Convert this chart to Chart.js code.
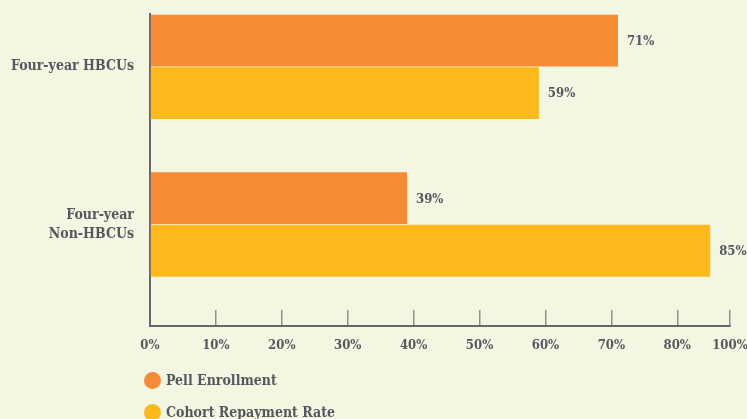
<!DOCTYPE html>
<html>
<head>
<meta charset="utf-8">
<title>Pell Enrollment vs Cohort Repayment Rate</title>
<script src="https://cdn.jsdelivr.net/npm/chart.js@4.4.1/dist/chart.umd.min.js"></script>
<style>
  html, body { margin: 0; padding: 0; background: #F3F6E1; }
  #wrap { position: relative; width: 747px; height: 419px; overflow: hidden; }
  #chart { position: absolute; left: 0; top: 0; }
  #legend { position: absolute; left: 144px; top: 370px; font-family: 'DejaVu Serif Condensed', 'DejaVu Serif', serif;
            font-weight: bold; font-size: 14px; color: #54585F; }
  .lg-item { height: 32px; display: flex; align-items: flex-start; }
  .lg-dot { width: 17px; height: 17px; border-radius: 50%; margin-right: 5px; margin-top: 2px; }
  .lg-text { line-height: 20px; }
</style>
</head>
<body>
<div id="wrap">
  <canvas id="chart" width="747" height="419"></canvas>
  <div id="legend"></div>
</div>
<script>
// ══════════════════════════════════════════════
//  HBCU Pell enrollment / repayment bar chart
// ══════════════════════════════════════════════

// ── Data ───────────────────────────────────
var categories   = ['Four-year HBCUs', 'Four-year Non-HBCUs'];
var catLines     = [['Four-year HBCUs'], ['Four-year', 'Non-HBCUs']];
var pellValues   = [71, 39];
var repayValues  = [59, 85];
var seriesNames  = ['Pell Enrollment', 'Cohort Repayment Rate'];
var tickValues   = [0, 10, 20, 30, 40, 50, 60, 70, 80, 88];
var tickLabels   = ['0%', '10%', '20%', '30%', '40%', '50%', '60%', '70%', '80%', '100%'];

// ── Style ──────────────────────────────────
var ORANGE = '#F58B34';
var YELLOW = '#FDB81B';
var TEXT   = '#54585F';
var AXIS   = '#64676C';
var TICK   = '#8E9194';
var FONT   = "'DejaVu Serif Condensed', 'DejaVu Serif', serif";

function toPoints(vals) {
  return vals.map(function(v, i) { return { x: v, y: i }; });
}

// keep the plot area fixed: no extra room for edge tick labels
function noEdgePadding(s) {
  s.paddingTop = 0; s.paddingBottom = 0;
  s.paddingLeft = 0; s.paddingRight = 0;
}

// value labels at the end of each bar
var barLabels = {
  id: 'barLabels',
  afterDatasetsDraw: function(chart) {
    var ctx = chart.ctx;
    ctx.save();
    ctx.font = 'bold 13px ' + FONT;
    ctx.fillStyle = TEXT;
    ctx.textAlign = 'left';
    ctx.textBaseline = 'middle';
    chart.data.datasets.forEach(function(ds, di) {
      chart.getDatasetMeta(di).data.forEach(function(bar, i) {
        ctx.fillText(ds.data[i].x + '%', bar.x + 9, bar.y + 1);
      });
    });
    ctx.restore();
  }
};

// ── Chart ──────────────────────────────────
var chart = new Chart(document.getElementById('chart'), {
  type: 'bar',
  data: {
    datasets: [
      { label: seriesNames[0], data: toPoints(pellValues),  backgroundColor: ORANGE },
      { label: seriesNames[1], data: toPoints(repayValues), backgroundColor: YELLOW }
    ]
  },
  options: {
    indexAxis: 'y',
    responsive: false,
    animation: false,
    categoryPercentage: 0.667,
    barPercentage: 0.985,
    layout: { padding: { top: 14, right: 17, bottom: 53, left: 0 } },
    plugins: {
      legend: { display: false },
      tooltip: { enabled: false }
    },
    scales: {
      x: {
        type: 'linear',
        min: 0,
        max: 88,
        bounds: 'data',
        afterBuildTicks: function(s) {
          s.ticks = tickValues.map(function(v) { return { value: v }; });
        },
        afterFit: function(s) { s.height = 40; noEdgePadding(s); },
        grid: { drawOnChartArea: false, drawTicks: true, tickLength: -16, tickColor: TICK, lineWidth: 1.5 },
        border: { display: true, color: AXIS, width: 2 },
        ticks: {
          padding: 28,
          color: TEXT,
          font: { family: FONT, size: 13, weight: 'bold' },
          maxRotation: 0,
          autoSkip: false,
          callback: function(v, i) { return tickLabels[i]; }
        }
      },
      y: {
        type: 'linear',
        reverse: true,
        offset: false,
        min: -0.335,
        max: 1.644,
        bounds: 'data',
        afterBuildTicks: function(s) {
          s.ticks = categories.map(function(c, i) { return { value: i }; });
        },
        afterFit: function(s) { s.width = 150; noEdgePadding(s); },
        grid: { display: false, offset: false },
        border: { display: true, color: AXIS, width: 2 },
        ticks: {
          padding: 8,
          color: TEXT,
          font: { family: FONT, size: 14, weight: 'bold', lineHeight: 1.35 },
          autoSkip: false,
          callback: function(v) { return catLines[v] || ''; }
        }
      }
    }
  },
  plugins: [barLabels]
});

// ── Legend ─────────────────────────────────
var html = '';
chart.data.datasets.forEach(function(ds) {
  html += '<div class="lg-item"><div class="lg-dot" style="background:' + ds.backgroundColor + '"></div>' +
          '<span class="lg-text">' + ds.label + '</span></div>';
});
document.getElementById('legend').innerHTML = html;
</script>
</body>
</html>
